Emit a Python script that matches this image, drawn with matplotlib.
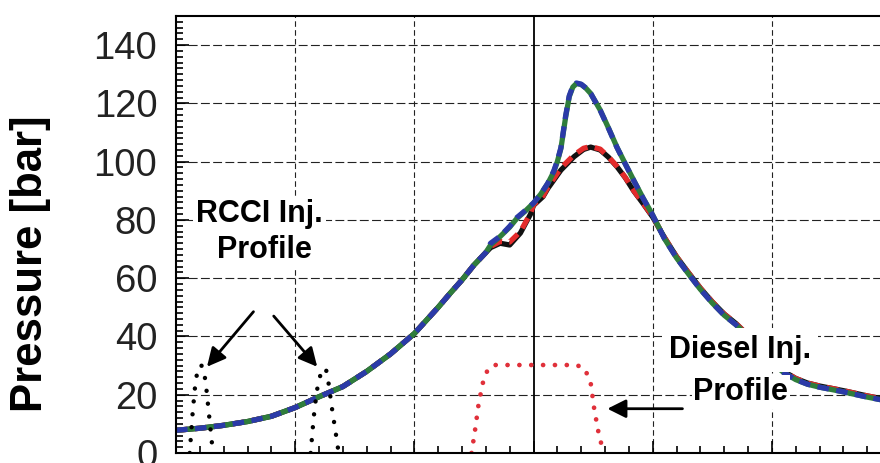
import matplotlib
matplotlib.use("Agg")
import matplotlib.pyplot as plt
import numpy as np

plt.rcParams['font.family'] = ['Liberation Sans', 'DejaVu Sans']

# crank angle [deg] / pressure [bar]
# compression part, shared by all four traces
cad_comp = [-30, -28, -26, -24, -22, -20, -18, -16, -14, -12, -10, -9, -8, -7, -6, -5, -4]
p_comp = [7.8, 8.5, 9.5, 10.8, 12.6, 15.6, 19.3, 22.8, 28.0, 34.0, 41.0, 45.5, 50.0, 54.8, 59.4, 64.5, 68.8]

# expansion part, shared
cad_exp = [11, 12, 13, 14, 15, 16, 17, 18, 19, 20, 21, 22, 23, 24, 25, 26, 27, 28, 29, 30]
p_exp = [73.5, 67.0, 61.5, 56.2, 51.5, 47.3, 44.0, 40.0, 35.5, 31.0, 27.6, 25.2, 23.6, 22.6, 21.8, 21.0, 20.1, 19.2, 18.4, 17.7]

# combustion part, high peak case (green solid / blue dashed)
cad_hi = [-3.6, -2.8, -2, -1.4, -0.7, 0, 0.6, 1.2, 1.7, 2.0, 2.3, 2.7, 3.0, 3.3, 3.6, 4.0, 4.4, 4.8, 5.6, 6.3, 7.0, 7.7, 8.4, 9.2, 10]
p_green = [71.4, 74.3, 77.5, 80.5, 83.0, 85.8, 88.8, 92.5, 96.5, 100.0, 104.5, 115.4, 122.3, 125.6, 126.8, 126.5, 125.2, 123.4, 117.7, 111.5, 105.0, 99.3, 93.7, 87.5, 81.7]
p_blue = [72.0, 74.4, 77.8, 80.8, 83.2, 85.8, 88.8, 92.6, 96.8, 100.3, 104.8, 115.8, 122.6, 125.9, 127.0, 126.6, 125.3, 123.4, 117.6, 111.4, 104.9, 99.2, 93.6, 87.4, 81.6]

# combustion part, low peak case (black solid / red dashed)
cad_lo = [-3.6, -2.8, -2.0, -1.1, -0.25, 0, 0.8, 1.2, 2.3, 3.4, 4.2, 4.8, 5.6, 6.3, 7.0, 7.7, 8.4, 9.2, 10]
p_black = [70.5, 72.0, 71.4, 75.5, 82.0, 85.0, 88.0, 90.8, 97.1, 101.7, 104.2, 105.0, 104.0, 101.5, 98.3, 94.5, 90.0, 85.6, 81.0]
p_red = [70.9, 72.6, 72.4, 76.0, 82.3, 85.2, 88.2, 91.2, 97.8, 102.3, 104.6, 105.2, 104.3, 101.6, 98.4, 94.6, 90.1, 85.7, 81.2]

# injection profiles (nan splits the two RCCI pulses)
rcci_cad = [-28.85, -28.6, -28.35, -28.1, -27.9, -27.7, -27.5, -27.25, -27.0, -26.9, np.nan,
            -18.7, -18.45, -18.2, -17.9, -17.6, -17.4, -17.2, -16.9, -16.6, -16.35]
rcci_p = [0, 14, 25, 29.5, 30.2, 29, 24, 14, 4, 0, np.nan,
          0, 12, 21, 26.5, 29.2, 28.5, 24, 15, 7, 0]
diesel_cad = [-5.2, -4.9, -4.6, -4.2, -3.8, -3.3, 3.6, 4.3, 4.8, 5.1, 5.5, 5.9]
diesel_p = [0, 8, 17, 25, 29, 30.2, 30.2, 29, 24, 15, 6, 0]

yticks = [0, 20, 40, 60, 80, 100, 120, 140]
xgrid = [-20, -10, 10, 20]

fig = plt.figure(figsize=(8.8, 4.63), dpi=100)
ax = fig.add_axes([176 / 880, 10 / 463, 715 / 880, 437 / 463])
ax.set_xlim(-30, 30)
ax.set_ylim(0, 150)

# grid
for y in yticks[1:]:
    ax.axhline(y, color='#222222', lw=0.8, dashes=(8, 3), zorder=1)
for x in xgrid:
    ax.axvline(x, color='#222222', lw=0.8, dashes=(5, 3), zorder=1)
ax.axvline(0, color='black', lw=1.3, zorder=1)

# pressure traces
x_hi = cad_comp + cad_hi + cad_exp
x_lo = cad_comp + cad_lo + cad_exp
ax.plot(x_lo, p_comp + p_black + [p + 0.4 for p in p_exp], color='#111111', lw=3.8, zorder=2,
        solid_joinstyle='round')
ax.plot(x_lo, p_comp + p_red + [p + 0.4 for p in p_exp], color='#e32b2b', lw=3.8, dashes=(2.2, 1.4), zorder=2)
ax.plot(x_hi, p_comp + p_green + p_exp, color='#2f7d3c', lw=3.8, zorder=2, solid_joinstyle='round')
ax.plot(x_hi, p_comp + p_blue + p_exp, color='#2b3aa8', lw=3.8, dashes=(2.2, 1.4), zorder=2)

# injection profiles
ax.plot(rcci_cad, rcci_p, color='black', lw=3.2, dashes=(0.01, 2.9), dash_capstyle='round', zorder=2)
ax.plot(diesel_cad, diesel_p, color='#e0303a', lw=3.4, dashes=(0.01, 2.5), dash_capstyle='round', zorder=2)

# annotations
box = dict(facecolor='white', edgecolor='none', pad=2)
ax.text(-23.0, 79.3, 'RCCI Inj.', fontsize=22, fontweight='bold', ha='center', va='baseline',
        bbox=box, zorder=3)
ax.text(-22.6, 66.9, 'Profile', fontsize=22, fontweight='bold', ha='center', va='baseline',
        bbox=box, zorder=3)
ax.text(17.3, 32.6, 'Diesel Inj.', fontsize=22, fontweight='bold', ha='center', va='baseline',
        bbox=dict(facecolor='white', edgecolor='none', pad=5), zorder=3)
ax.text(17.4, 18.2, 'Profile', fontsize=22, fontweight='bold', ha='center', va='baseline',
        bbox=dict(facecolor='white', edgecolor='none', pad=1), zorder=3)

arrow = dict(arrowstyle='-|>', color='black', lw=2, mutation_scale=28, shrinkA=0, shrinkB=0)
ax.annotate('', xy=(-27.4, 29.6), xytext=(-23.5, 48.5), arrowprops=arrow, zorder=4)
ax.annotate('', xy=(-18.15, 29.6), xytext=(-21.8, 47.0), arrowprops=arrow, zorder=4)
ax.annotate('', xy=(6.2, 15.2), xytext=(12.5, 15.2), arrowprops=arrow, zorder=4)

# axes styling
ax.set_yticks(yticks)
ax.set_yticks(np.arange(0, 151, 2), minor=True)
ax.set_xticks([-30, -20, -10, 0, 10, 20, 30])
ax.set_xticks(np.arange(-30, 31, 2), minor=True)
ax.tick_params(axis='both', which='both', direction='in', color='black')
ax.tick_params(axis='both', which='major', length=9, width=1.2)
ax.tick_params(axis='both', which='minor', length=5, width=1.2)
ax.tick_params(axis='x', labelbottom=False)
ax.tick_params(axis='y', labelsize=27.5, pad=13.5, labelcolor='#222222')
for s in ['left', 'top', 'bottom']:
    ax.spines[s].set_linewidth(1.5)
ax.spines['right'].set_visible(False)

fig.text(31 / 880, 199 / 463, 'Pressure [bar]', rotation=90, fontsize=31.5, fontweight='bold',
         ha='center', va='center')

fig.savefig('out.png', dpi=100)
